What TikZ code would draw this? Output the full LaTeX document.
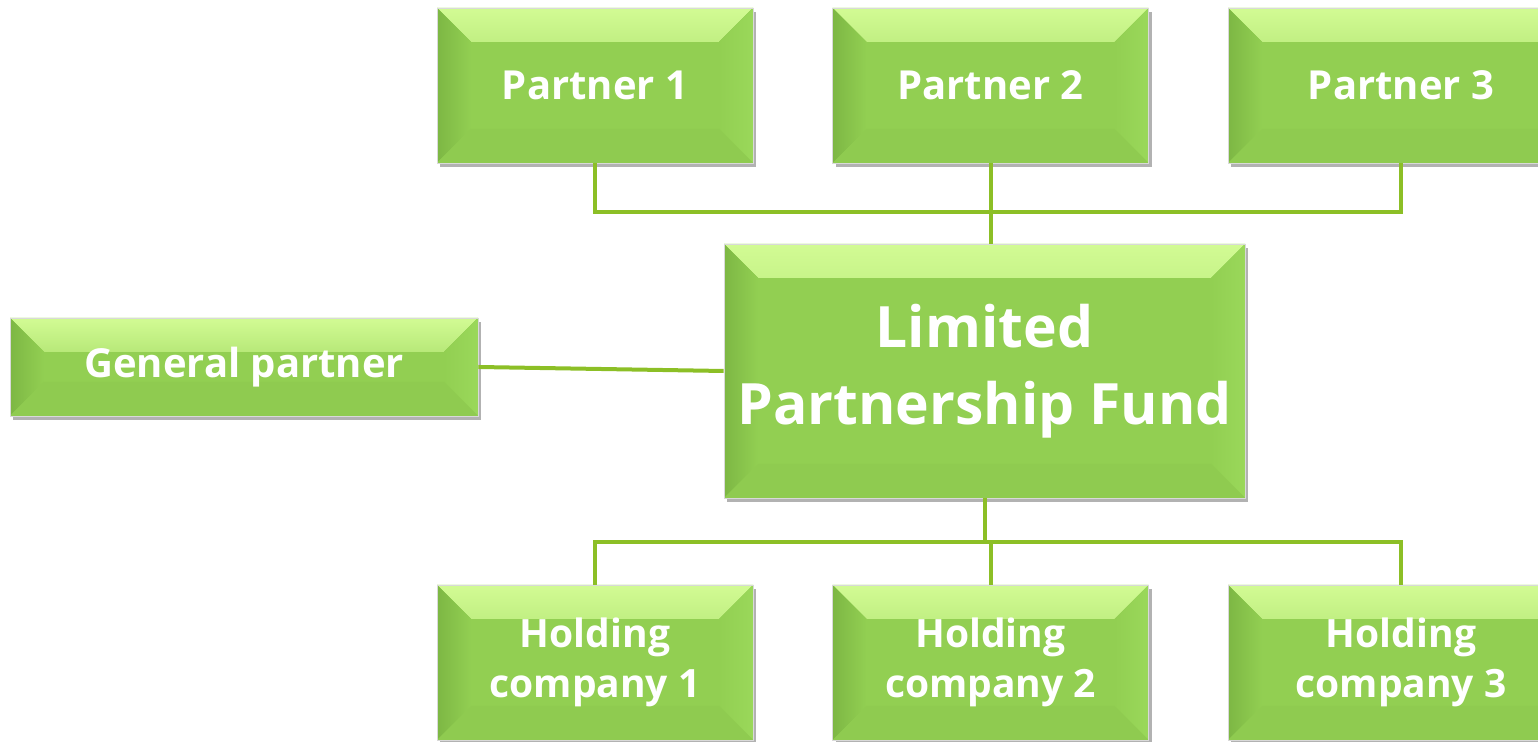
\documentclass[tikz,border=0pt]{standalone}
\usepackage{fontspec}
\setmainfont{Open Sans}
\usetikzlibrary{shadows}

\definecolor{boxgreen}{HTML}{92CF52}
\definecolor{toplight}{HTML}{D2FB94}
\definecolor{leftdark}{HTML}{7DB744}
\definecolor{rightlight}{HTML}{9AD85A}
\definecolor{linkgreen}{HTML}{8CBF26}

\begin{document}
\begin{tikzpicture}[x=0.5pt,y=-0.5pt]
  \tikzstyle{bevel}=[rectangle,fill=boxgreen,draw=black!15,line width=0.4pt,
    text=white,font=\bfseries,align=center,inner sep=0pt,
    drop shadow={shadow xshift=1.5pt,shadow yshift=-2pt,opacity=0.3,fill=black},
    path picture={
      \fill[top color=toplight,bottom color=boxgreen,middle color=toplight!40!boxgreen]
        (path picture bounding box.north west) -- (path picture bounding box.north east)
        -- ([shift={(-17pt,-17pt)}]path picture bounding box.north east)
        -- ([shift={(17pt,-17pt)}]path picture bounding box.north west) -- cycle;
      \fill[left color=leftdark,right color=boxgreen]
        (path picture bounding box.north west) -- ([shift={(17pt,-17pt)}]path picture bounding box.north west)
        -- ([shift={(17pt,17pt)}]path picture bounding box.south west)
        -- (path picture bounding box.south west) -- cycle;
      \fill[left color=boxgreen,right color=rightlight]
        (path picture bounding box.north east) -- ([shift={(-17pt,-17pt)}]path picture bounding box.north east)
        -- ([shift={(-17pt,17pt)}]path picture bounding box.south east)
        -- (path picture bounding box.south east) -- cycle;
      \fill[boxgreen!98!black]
        (path picture bounding box.south west) -- ([shift={(17pt,17pt)}]path picture bounding box.south west)
        -- ([shift={(-17pt,17pt)}]path picture bounding box.south east)
        -- (path picture bounding box.south east) -- cycle;
    }]
  \tikzstyle{small}=[minimum width=158pt,minimum height=77.5pt,font=\bfseries\fontsize{19.5}{25}\selectfont]
  \tikzstyle{link}=[draw=linkgreen,line width=2pt]
  \useasboundingbox (0,0) rectangle (1538,742);

  % partners
  \node[bevel,small,font=\bfseries\fontsize{20}{25}\selectfont] (p1) at (595,85.5) {Partner 1};
  \node[bevel,small,font=\bfseries\fontsize{20}{25}\selectfont] (p2) at (990.5,85.5) {Partner 2};
  \node[bevel,small,font=\bfseries\fontsize{20}{25}\selectfont,minimum width=173pt] (p3) at (1401,85.5) {Partner 3};

  % fund and general partner
  \node[bevel,minimum width=260.5pt,minimum height=127pt,
        font=\bfseries\fontsize{28.5}{38.5}\selectfont] (lpf) at (984.5,371) {Limited\\Partnership Fund};
  \node[bevel,small,minimum width=234pt,minimum height=49pt,
        font=\bfseries\fontsize{20}{25}\selectfont] (gp) at (244,367) {General partner};

  % holdings
  \node[bevel,small] (h1) at (595,662.5) {Holding\\company 1};
  \node[bevel,small] (h2) at (990.5,662.5) {Holding\\company 2};
  \node[bevel,small,minimum width=173pt] (h3) at (1401,662.5) {Holding\\company 3};

  \coordinate (topbus) at (0,212);
  \coordinate (botbus) at (0,542);

  \draw[link] (p1.south) |- (p3.south |- topbus) -- (p3.south);
  \draw[link] (p2.south) -- (p2.south |- lpf.north);
  \draw[link] (gp.east) -- (lpf.west);
  \draw[link] (lpf.south) -- (lpf.south |- botbus);
  \draw[link] (h1.north) |- (h3.north |- botbus) -- (h3.north);
  \draw[link] (h2.north) -- (h2.north |- botbus);
\end{tikzpicture}
\end{document}
